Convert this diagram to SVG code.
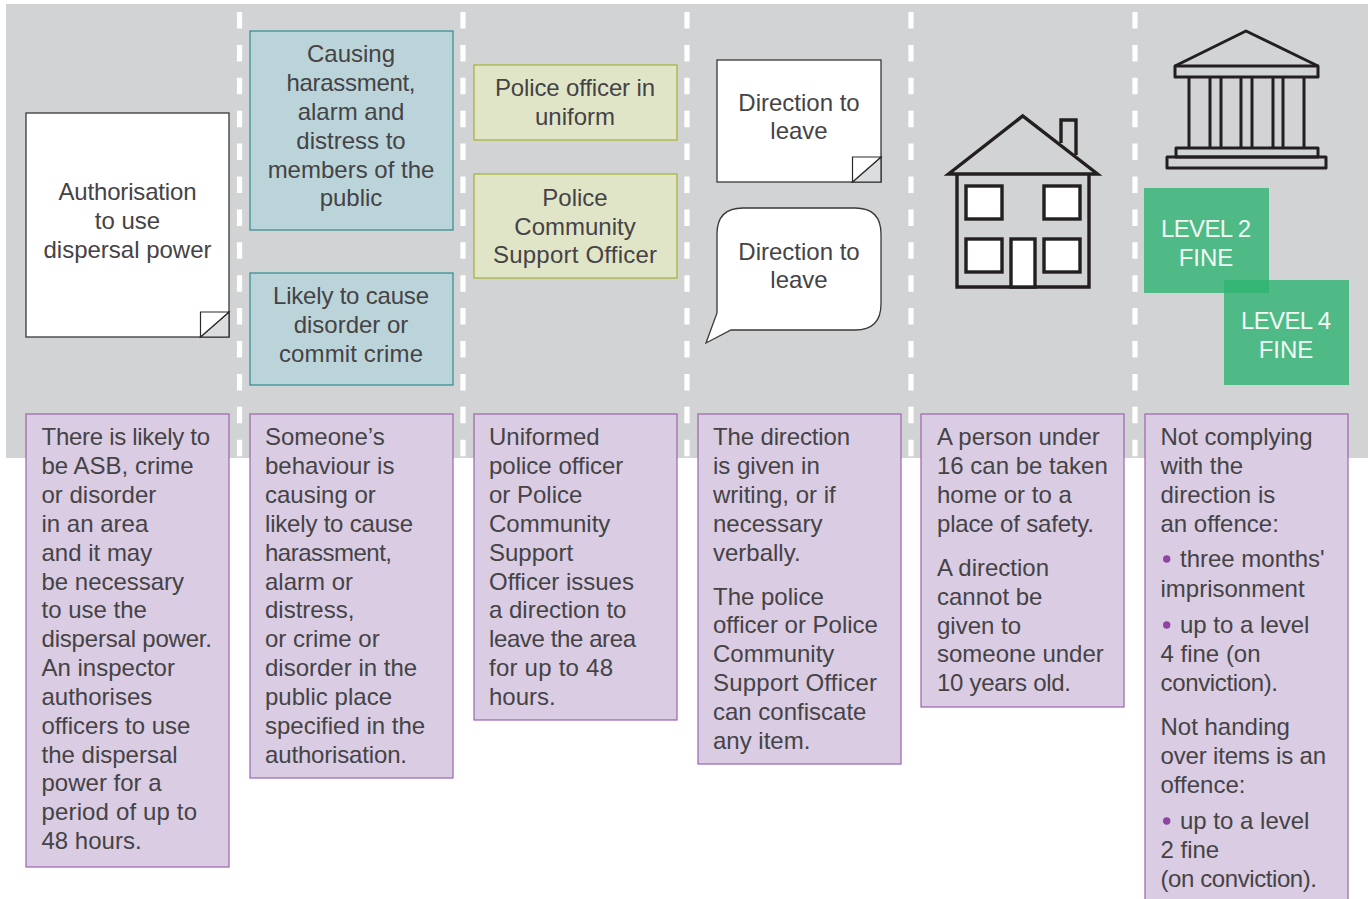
<svg xmlns="http://www.w3.org/2000/svg" width="1370" height="899" viewBox="0 0 1370 899">
<style>
text{font-family:"Liberation Sans",Arial,sans-serif;font-size:24px;fill:#454345}
.c{text-anchor:middle}
.w{fill:#fff;stroke:#3a3839;stroke-width:1.3}
.t{fill:#bbd4da;stroke:#2e8b8f;stroke-width:1.2}
.o{fill:#e1e5c8;stroke:#a3b12f;stroke-width:1.2}
.p{fill:#d9cce3;stroke:#9b63ae;stroke-width:1.2}
.g{fill:#2eb471;fill-opacity:.8}
.f{fill:#dcdddf;stroke:#2b2a2b;stroke-width:1.2}
.i{fill:none;stroke:#231f20;stroke-width:3.4}
.iw{fill:#fff;stroke:#231f20;stroke-width:3.4}
.k{fill:none;stroke:#231f20;stroke-width:3}
.d{stroke:#fff;stroke-width:5.2;stroke-dasharray:16.5 16.4;fill:none}
.b{fill:#8e44a0}
.gt{fill:#f1faf5}
</style>
<rect id="background" x="6" y="4" width="1362" height="454" fill="#d1d3d4"/>
<g id="connectors">
<path class="d" d="M239.500 12V458"/><path class="d" d="M463 12V458"/><path class="d" d="M687 12V458"/><path class="d" d="M911 12V458"/><path class="d" d="M1135 12V458"/>
</g>
<g id="authorisation">
<rect class="w" x="26" y="113" width="203" height="224"/>
<path class="f" d="M229 312L200.500 337H229Z"/><path d="M200.500 337V312H229L200.500 337Z" fill="#fff" stroke="#2b2a2b" stroke-width="1.200"/>
<text class="c"><tspan x="127.500" y="200" textLength="138">Authorisation</tspan><tspan x="127.500" y="229">to use</tspan><tspan x="127.500" y="258">dispersal power</tspan></text>
</g>
<g id="harassment">
<rect class="t" x="250" y="31" width="203" height="199"/>
<text class="c"><tspan x="351" y="62">Causing</tspan><tspan x="351" y="91" textLength="129">harassment,</tspan><tspan x="351" y="120">alarm and</tspan><tspan x="351" y="149">distress to</tspan><tspan x="351" y="178">members of the</tspan><tspan x="351" y="206">public</tspan></text>
</g>
<g id="likely">
<rect class="t" x="250" y="273" width="203" height="112"/>
<text class="c"><tspan x="351" y="304" textLength="156">Likely to cause</tspan><tspan x="351" y="333">disorder or</tspan><tspan x="351" y="362" textLength="144">commit crime</tspan></text>
</g>
<g id="officer">
<rect class="o" x="474" y="65" width="203" height="75"/>
<text class="c"><tspan x="575" y="96" textLength="160">Police officer in</tspan><tspan x="575" y="125">uniform</tspan></text>
</g>
<g id="pcso">
<rect class="o" x="474" y="174" width="203" height="104"/>
<text class="c"><tspan x="575" y="206">Police</tspan><tspan x="575" y="235">Community</tspan><tspan x="575" y="263" textLength="164">Support Officer</tspan></text>
</g>
<g id="direction-written">
<rect class="w" x="717" y="60" width="164" height="122"/>
<path class="f" d="M881 157L852.500 182H881Z"/><path d="M852.500 182V157H881L852.500 182Z" fill="#fff" stroke="#2b2a2b" stroke-width="1.200"/>
<text class="c"><tspan x="799" y="111">Direction to</tspan><tspan x="799" y="139">leave</tspan></text>
</g>
<g id="direction-verbal">
<path class="w" d="M743 208H855Q881 208 881 234V304Q881 330 855 330H731L706 343L717 313V234Q717 208 743 208Z"/>
<text class="c"><tspan x="799" y="260">Direction to</tspan><tspan x="799" y="288">leave</tspan></text>
</g>
<g id="house">
<path class="i" d="M1061 143V120H1076V155"/>
<path class="i" d="M957 174V287H1089V174"/>
<path class="i" stroke-miterlimit="10" d="M948.500 174L1022.700 116L1097.500 174Z"/>
<rect class="iw" x="966" y="186" width="36" height="33"/>
<rect class="iw" x="1044" y="186" width="36" height="33"/>
<rect class="iw" x="966" y="239" width="36" height="33"/>
<rect class="iw" x="1044" y="239" width="36" height="33"/>
<rect class="iw" x="1011" y="239" width="24" height="48"/>
</g>
<g id="court">
<path class="k" stroke-linejoin="round" d="M1175 66L1246 31L1318 66"/>
<rect class="k" stroke-linejoin="round" x="1175" y="66" width="143" height="11"/>
<path class="k" d="M1189 77V147M1210 77V147M1221 77V147M1241 77V147M1252 77V147M1273 77V147M1283 77V147M1304 77V147"/>
<rect class="k" stroke-linejoin="round" x="1176" y="148" width="142" height="9"/>
<rect class="k" stroke-linejoin="round" x="1167" y="157" width="159" height="11"/>
</g>
<g id="level-2">
<rect class="g" x="1144" y="188" width="125" height="105"/>
<text class="c gt"><tspan x="1206" y="237" textLength="90">LEVEL 2</tspan><tspan x="1206" y="266">FINE</tspan></text>
</g>
<g id="level-4">
<rect class="g" x="1224" y="280" width="125" height="105"/>
<text class="c gt"><tspan x="1286" y="329" textLength="90">LEVEL 4</tspan><tspan x="1286" y="358">FINE</tspan></text>
</g>
<g id="text-1">
<rect class="p" x="26" y="414" width="203" height="453"/>
<text><tspan x="41.500" y="445" textLength="168.500">There is likely to</tspan><tspan x="41.500" y="474">be ASB, crime</tspan><tspan x="41.500" y="503">or disorder</tspan><tspan x="41.500" y="532">in an area</tspan><tspan x="41.500" y="561">and it may</tspan><tspan x="41.500" y="590" textLength="142.500">be necessary</tspan><tspan x="41.500" y="618">to use the</tspan><tspan x="41.500" y="647" textLength="170.500">dispersal power.</tspan><tspan x="41.500" y="676">An inspector</tspan><tspan x="41.500" y="705">authorises</tspan><tspan x="41.500" y="734">officers to use</tspan><tspan x="41.500" y="763">the dispersal</tspan><tspan x="41.500" y="791">power for a</tspan><tspan x="41.500" y="820" textLength="155.500">period of up to</tspan><tspan x="41.500" y="849">48 hours.</tspan></text>
</g>
<g id="text-2">
<rect class="p" x="250" y="414" width="203" height="364"/>
<text><tspan x="265" y="445">Someone’s</tspan><tspan x="265" y="474">behaviour is</tspan><tspan x="265" y="503">causing or</tspan><tspan x="265" y="532" textLength="148">likely to cause</tspan><tspan x="265" y="561" textLength="127">harassment,</tspan><tspan x="265" y="590">alarm or</tspan><tspan x="265" y="618">distress,</tspan><tspan x="265" y="647">or crime or</tspan><tspan x="265" y="676">disorder in the</tspan><tspan x="265" y="705" textLength="127">public place</tspan><tspan x="265" y="734">specified in the</tspan><tspan x="265" y="763" textLength="142">authorisation.</tspan></text>
</g>
<g id="text-3">
<rect class="p" x="474" y="414" width="203" height="306"/>
<text><tspan x="489" y="445">Uniformed</tspan><tspan x="489" y="474">police officer</tspan><tspan x="489" y="503">or Police</tspan><tspan x="489" y="532">Community</tspan><tspan x="489" y="561">Support</tspan><tspan x="489" y="590">Officer issues</tspan><tspan x="489" y="618">a direction to</tspan><tspan x="489" y="647" textLength="147">leave the area</tspan><tspan x="489" y="676" textLength="124">for up to 48</tspan><tspan x="489" y="705">hours.</tspan></text>
</g>
<g id="text-4">
<rect class="p" x="698" y="414" width="203" height="350"/>
<text><tspan x="713" y="445" textLength="137">The direction</tspan><tspan x="713" y="474">is given in</tspan><tspan x="713" y="503">writing, or if</tspan><tspan x="713" y="532">necessary</tspan><tspan x="713" y="561">verbally.</tspan><tspan x="713" y="605">The police</tspan><tspan x="713" y="633">officer or Police</tspan><tspan x="713" y="662">Community</tspan><tspan x="713" y="691" textLength="164">Support Officer</tspan><tspan x="713" y="720">can confiscate</tspan><tspan x="713" y="749">any item.</tspan></text>
</g>
<g id="text-5">
<rect class="p" x="921" y="414" width="203" height="293"/>
<text><tspan x="937" y="445">A person under</tspan><tspan x="937" y="474">16 can be taken</tspan><tspan x="937" y="503">home or to a</tspan><tspan x="937" y="532" textLength="157">place of safety.</tspan><tspan x="937" y="576">A direction</tspan><tspan x="937" y="605">cannot be</tspan><tspan x="937" y="634">given to</tspan><tspan x="937" y="662">someone under</tspan><tspan x="937" y="691" textLength="134">10 years old.</tspan></text>
</g>
<g id="text-6">
<rect class="p" x="1145" y="414" width="203" height="490"/>
<circle class="b" cx="1166.700" cy="559" r="3.700"/><circle class="b" cx="1166.700" cy="625" r="3.700"/><circle class="b" cx="1166.700" cy="821" r="3.700"/>
<text><tspan x="1160.500" y="445">Not complying</tspan><tspan x="1160.500" y="474">with the</tspan><tspan x="1160.500" y="503">direction is</tspan><tspan x="1160.500" y="532">an offence:</tspan><tspan x="1180" y="567">three months'</tspan><tspan x="1160.500" y="597">imprisonment</tspan><tspan x="1180" y="633">up to a level</tspan><tspan x="1160.500" y="662">4 fine (on</tspan><tspan x="1160.500" y="691" textLength="117.500">conviction).</tspan><tspan x="1160.500" y="735">Not handing</tspan><tspan x="1160.500" y="764" textLength="165.500">over items is an</tspan><tspan x="1160.500" y="793">offence:</tspan><tspan x="1180" y="829">up to a level</tspan><tspan x="1160.500" y="858">2 fine</tspan><tspan x="1160.500" y="887" textLength="156.500">(on conviction).</tspan></text>
</g>
</svg>
